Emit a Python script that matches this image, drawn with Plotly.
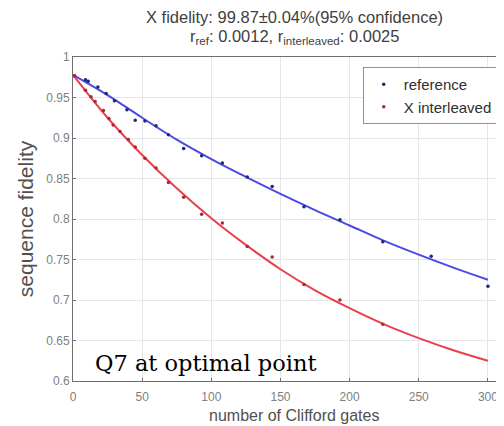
import plotly.graph_objects as go

# Measured data points
ref_x = [1, 9, 11, 18, 24, 30, 39, 45, 52, 60, 69, 80, 93, 108, 126, 144, 167, 193, 224, 259, 300]
ref_y = [0.977, 0.972, 0.970, 0.963, 0.955, 0.946, 0.935, 0.922, 0.921, 0.915, 0.904, 0.887,
         0.878, 0.869, 0.852, 0.840, 0.815, 0.799, 0.772, 0.754, 0.717]

int_x = [1, 9, 13, 16, 22, 26, 29, 34, 40, 45, 52, 60, 69, 80, 93, 108, 126, 144, 167, 193, 224]
int_y = [0.977, 0.959, 0.951, 0.945, 0.934, 0.924, 0.916, 0.908, 0.898, 0.889, 0.875, 0.863,
         0.845, 0.827, 0.806, 0.795, 0.766, 0.753, 0.719, 0.700, 0.670]

# Fit curves
fit_x = [0, 25, 50, 75, 100, 125, 150, 175, 200, 225, 250, 275, 300]
fit_ref = [0.978, 0.953, 0.925, 0.898, 0.874, 0.852, 0.831, 0.811, 0.792, 0.773, 0.756, 0.740, 0.725]
fit_int = [0.978, 0.925, 0.879, 0.838, 0.801, 0.768, 0.738, 0.712, 0.690, 0.670, 0.653, 0.638, 0.625]

x_ticks = [0, 50, 100, 150, 200, 250, 300]
y_ticks = [0.6, 0.65, 0.7, 0.75, 0.8, 0.85, 0.9, 0.95, 1]

fig = go.Figure()
fig.add_trace(go.Scatter(x=fit_x, y=fit_ref, mode="lines", line=dict(color="#4a4ae6", width=2, shape="spline"),
                         showlegend=False, hoverinfo="skip"))
fig.add_trace(go.Scatter(x=fit_x, y=fit_int, mode="lines", line=dict(color="#e8404e", width=2, shape="spline"),
                         showlegend=False, hoverinfo="skip"))
fig.add_trace(go.Scatter(x=ref_x, y=ref_y, mode="markers", name="reference",
                         marker=dict(color="#1c2a78", size=3.5)))
fig.add_trace(go.Scatter(x=int_x, y=int_y, mode="markers", name="X interleaved",
                         marker=dict(color="#a8283a", size=3.5)))

axis_common = dict(showline=True, linecolor="#6e6e6e", linewidth=1, mirror=True,
                   ticks="inside", ticklen=3, tickcolor="#6e6e6e", automargin=False,
                   showgrid=True, gridcolor="#e6e6e6", gridwidth=1, zeroline=False,
                   tickfont=dict(family="Liberation Sans, Arial", size=12, color="#808080"))

title_font = dict(family="Liberation Sans, Arial", size=16.5, color="#404040")

# page body has an 8px default margin; the figure is sized to fit inside the window
fig.update_layout(
    width=496, height=418,
    margin=dict(l=65, r=5, t=49, b=45, autoexpand=False),
    paper_bgcolor="white", plot_bgcolor="white",
    xaxis=dict(range=[0, 308], tickvals=x_ticks, ticklabelstandoff=5, **axis_common),
    yaxis=dict(range=[0.6, 1.0], tickvals=y_ticks, **axis_common,
               title=dict(text="sequence fidelity", standoff=6,
                          font=dict(family="Liberation Sans, Arial", size=21, color="#505050"))),
    legend=dict(x=0.997, y=0.969, xanchor="right", yanchor="top",
                bgcolor="white", bordercolor="#909090", borderwidth=1,
                font=dict(family="Liberation Sans, Arial", size=15, color="#303030"),
                itemwidth=30, tracegroupgap=0),
    annotations=[
        dict(text="X fidelity: 99.87±0.04%(95% confidence)", x=0.52, y=1.123,
             xref="paper", yref="paper", xanchor="center", yanchor="middle",
             showarrow=False, font=title_font),
        dict(text="r<sub>ref</sub>: 0.0012, r<sub>interleaved</sub>: 0.0025", x=0.52, y=1.062,
             xref="paper", yref="paper", xanchor="center", yanchor="middle",
             showarrow=False, font=title_font),
        dict(text="number of Clifford gates", x=0.519, y=-0.108,
             xref="paper", yref="paper", xanchor="center", yanchor="middle",
             showarrow=False, font=dict(family="Liberation Sans, Arial", size=16, color="#505050")),
        dict(text="Q7 at optimal point", x=0.047, y=0.055, xref="paper", yref="paper",
             xanchor="left", yanchor="middle", showarrow=False,
             font=dict(family="DejaVu Serif", size=22.5, color="black")),
    ],
)

fig.write_html("out.html")
